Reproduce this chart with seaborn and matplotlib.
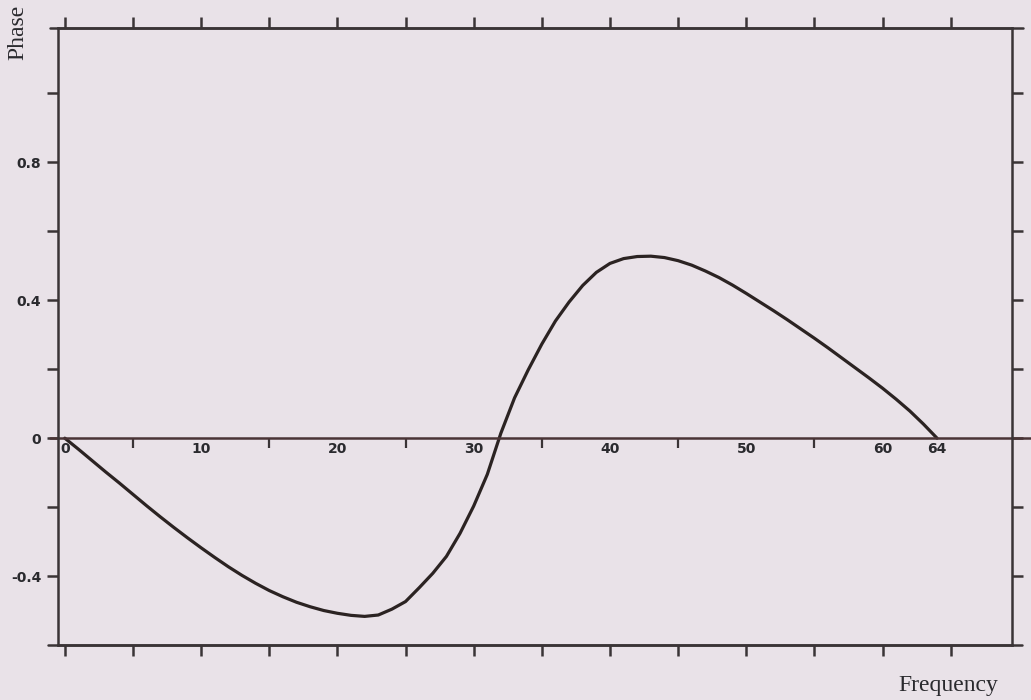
import numpy as np
import matplotlib
matplotlib.use("Agg")
import matplotlib.pyplot as plt
import matplotlib.ticker as mticker
import seaborn as sns

# phase curve, one value per frequency index 0..64
freq = list(range(65))
phase = [0.0, -0.032, -0.065, -0.098, -0.13, -0.163, -0.196, -0.228, -0.259, -0.289,
         -0.318, -0.346, -0.373, -0.398, -0.421, -0.442, -0.46, -0.476, -0.489, -0.50,
         -0.508, -0.514, -0.517, -0.513, -0.496, -0.474, -0.434, -0.392, -0.343, -0.276,
         -0.197, -0.105, 0.015, 0.117, 0.198, 0.273, 0.34, 0.395, 0.443, 0.481,
         0.507, 0.521, 0.527, 0.528, 0.524, 0.515, 0.502, 0.485, 0.466, 0.444,
         0.42, 0.395, 0.37, 0.344, 0.317, 0.29, 0.262, 0.233, 0.204, 0.175,
         0.145, 0.113, 0.079, 0.041, 0.0]

freq_ticks = [0, 10, 20, 30, 40, 50, 60, 64]
freq_labels = ["0", "10", "20", "30", "40", "50", "60", "64"]
freq_minor = [5, 15, 25, 35, 45, 55]
phase_ticks = [-0.4, 0, 0.4, 0.8]
phase_labels = ["-0.4", "0", "0.4", "0.8"]
phase_minor = [-0.2, 0.2, 0.6, 1.0]

paper = "#e9e2e8"
ink = "#3a3436"

sns.set_theme(style="ticks")
plt.rcParams["font.family"] = ["DejaVu Sans"]

fig = plt.figure(figsize=(10.31, 7.0), dpi=100, facecolor=paper)
ax = fig.add_axes([58 / 1031, 55 / 700, 954 / 1031, 617 / 700])
ax.set_facecolor(paper)

sns.lineplot(x=freq, y=phase, ax=ax, color="#2b2322", lw=2.3)

ax.set_xlim(-0.5, 69.5)
ax.set_ylim(-0.6, 1.19)

for s in ax.spines.values():
    s.set_color(ink)
    s.set_linewidth(1.8)

# frame ticks, outward on all four sides
ax.xaxis.set_major_locator(mticker.MultipleLocator(5))
ax.xaxis.set_major_formatter(mticker.NullFormatter())
ax.set_yticks(phase_ticks, labels=phase_labels)
ax.yaxis.set_minor_locator(mticker.FixedLocator(phase_minor))
ax.tick_params(axis="x", which="both", direction="out", length=8, width=1.8,
               color=ink, top=True, bottom=True)
ax.tick_params(axis="y", which="both", direction="out", length=8, width=1.8,
               color=ink, left=True, right=True, labelsize=10, pad=4,
               labelcolor="#2a2a2e")
for lab in ax.get_yticklabels():
    lab.set_fontweight("bold")

# horizontal rules overshoot the frame a little, as in the scan
ymin, ymax = ax.get_ylim()
ax.axhline(ymax, xmin=-0.008, xmax=1.012, color=ink, lw=1.8, clip_on=False)
ax.axhline(ymin, xmin=-0.01, xmax=1.01, color=ink, lw=1.8, clip_on=False)
ax.axhline(0, xmin=-0.008, xmax=1.03, color="#4a3436", lw=1.8, clip_on=False)

# frequency labels sit on the zero line
secx = ax.secondary_xaxis(0, transform=ax.transData)
secx.spines["bottom"].set_visible(False)
secx.set_xticks(freq_ticks, labels=freq_labels)
secx.xaxis.set_minor_locator(mticker.FixedLocator(freq_minor))
secx.tick_params(which="major", length=0, pad=3, labelsize=10,
                 labelcolor="#2a2a2e")
secx.tick_params(which="minor", direction="out", length=7, width=1.6,
                 color=ink)
for lab in secx.get_xticklabels():
    lab.set_fontweight("bold")

fig.text(18 / 1031, 1 - 5 / 700, "Phase", rotation=90, ha="center", va="top",
         fontsize=17, family=["Liberation Serif", "DejaVu Serif"],
         color="#2a2a2e")
fig.text(948 / 1031, 1 - 685 / 700, "Frequency", ha="center", va="center",
         fontsize=17, family=["Liberation Serif", "DejaVu Serif"],
         color="#2a2a2e")

fig.savefig("out.png", dpi=100, facecolor=paper)
